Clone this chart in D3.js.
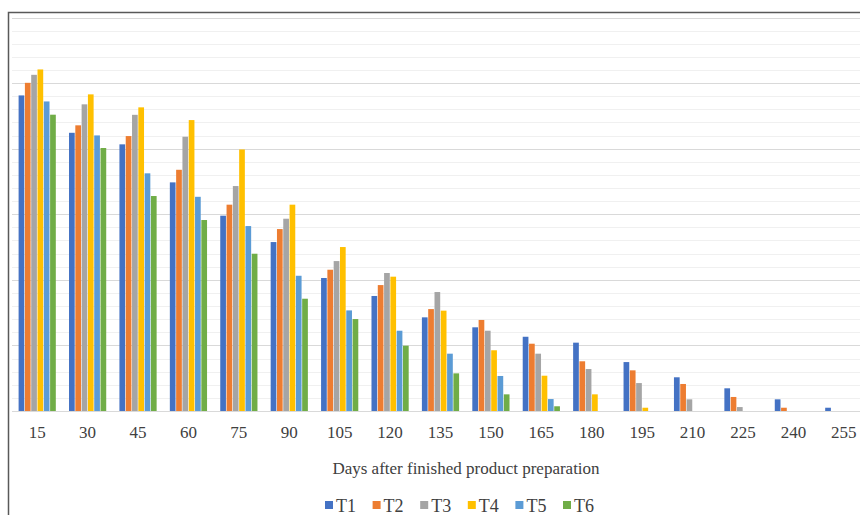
<!DOCTYPE html>
<html>
<head>
<meta charset="utf-8">
<script src="https://cdn.jsdelivr.net/npm/d3@7/dist/d3.min.js"></script>
<style>
  html, body { margin: 0; padding: 0; background: #fff; }
  svg { display: block; }
  text { font-family: "Liberation Serif", "Times New Roman", serif; fill: #404040; }
</style>
</head>
<body>
<svg id="chart" width="860" height="515"></svg>
<script>
const days = ["15","30","45","60","75","90","105","120","135","150","165","180","195","210","225","240","255"];
const seriesNames = ["T1","T2","T3","T4","T5","T6"];
const seriesColors = ["#4472C4","#ED7D31","#A5A5A5","#FFC000","#5B9BD5","#70AD47"];
const T1 = [24.06,21.21,20.33,17.43,14.89,12.88,10.14,8.77,7.14,6.38,5.66,5.21,3.73,2.57,1.73,0.89,0.25];
const T2 = [25.02,21.78,20.96,18.39,15.73,13.87,10.77,9.60,7.77,6.94,5.13,3.79,3.10,2.06,1.07,0.25,0];
const T3 = [25.63,23.38,22.58,20.91,17.15,14.66,11.43,10.52,9.07,6.12,4.37,3.20,2.13,0.89,0.30,0,0];
const T4 = [26.04,24.14,23.15,22.18,19.94,15.73,12.50,10.24,7.65,4.63,2.69,1.27,0.25,0,0,0,0];
const T5 = [23.60,21.01,18.12,16.33,14.10,10.31,7.67,6.12,4.37,2.67,0.91,0,0,0,0,0,0];
const T6 = [22.59,20.05,16.39,14.56,11.99,8.56,7.01,4.98,2.87,1.27,0.36,0,0,0,0,0,0];
const seriesValues = [T1,T2,T3,T4,T5,T6];
const yMax = 30;
const xTitle = "Days after finished product preparation";

const svg = d3.select("#chart");
const plot = {left: 12, right: 869, top: 17.5, bottom: 411};

const x = d3.scaleBand().domain(days).range([plot.left, plot.right]).paddingInner(0.25).paddingOuter(0.125);
const xs = d3.scaleBand().domain(seriesNames).range([0, x.bandwidth()]);
const y = d3.scaleLinear().domain([0, yMax]).range([plot.bottom, plot.top]);

// gridlines
const gridVals = d3.range(1, yMax + 1);
svg.append("g").selectAll("line").data(gridVals).join("line")
  .attr("x1", plot.left).attr("x2", 860)
  .attr("y1", d => Math.round(y(d)) + 0.5).attr("y2", d => Math.round(y(d)) + 0.5)
  .attr("stroke", d => d % 5 === 0 ? "#d9d9d9" : "#f0f0f0")
  .attr("stroke-width", d => d % 5 === 0 ? 1.2 : 1);

// bars
const rows = days.map((d, i) => ({day: d, vals: seriesNames.map((s, j) => ({s, v: seriesValues[j][i], c: seriesColors[j]}))}));
const groups = svg.append("g").selectAll("g").data(rows).join("g")
  .attr("transform", d => `translate(${x(d.day)},0)`);
groups.selectAll("rect").data(d => d.vals.filter(e => e.v > 0)).join("rect")
  .attr("x", d => xs(d.s) + 0.3)
  .attr("width", xs.bandwidth() - 0.6)
  .attr("y", d => y(d.v))
  .attr("height", d => y(0) - y(d.v))
  .attr("fill", d => d.c);

// baseline axis
svg.append("line").attr("x1", plot.left).attr("x2", 860)
  .attr("y1", 411.5).attr("y2", 411.5).attr("stroke", "#d9d9d9").attr("stroke-width", 1);

// x axis labels
const xAxis = d3.axisBottom(x).tickSize(0).tickPadding(0);
const gx = svg.append("g").attr("transform", "translate(0,426)").call(xAxis);
gx.select(".domain").remove();
gx.selectAll("text").attr("font-size", 17).attr("font-family", "Liberation Serif, serif").attr("fill", "#404040");

// x title
svg.append("text").attr("x", 466).attr("y", 474).attr("text-anchor", "middle")
  .attr("font-size", 17).text(xTitle);

// legend
const legendStart = 325, legendStep = 47.6;
const lg = svg.append("g").selectAll("g").data(seriesNames).join("g")
  .attr("transform", (d, i) => `translate(${legendStart + i * legendStep},0)`);
lg.append("rect").attr("x", 0).attr("y", 501).attr("width", 8).attr("height", 8)
  .attr("fill", (d, i) => seriesColors[i]);
lg.append("text").attr("x", 11).attr("y", 512).attr("font-size", 18).text(d => d);

// border
svg.append("path").attr("d", "M8.5,515 L8.5,12.5 L860,12.5")
  .attr("fill", "none").attr("stroke", "#595959").attr("stroke-width", 1.5);
</script>
</body>
</html>
